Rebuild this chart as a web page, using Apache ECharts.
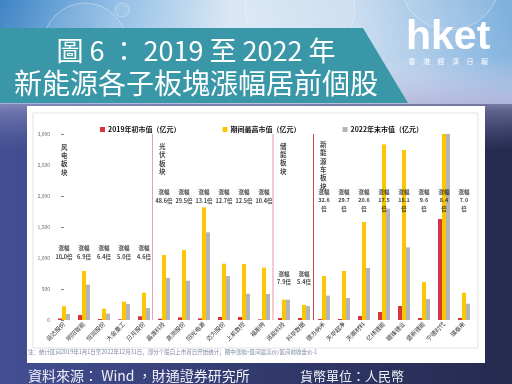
<!DOCTYPE html>
<html><head><meta charset="utf-8">
<script src="https://cdn.jsdelivr.net/npm/echarts@6/dist/echarts.min.js"></script>
<style>html,body{margin:0;padding:0;background:#262a4f}#c{width:512px;height:384px}</style>
</head><body><div id="c"></div>
<script>
// ---------- data ----------
const categories = ['运达股份','明阳智能','恒润股份','大金重工','日月股份',
  '晶澳科技','高测股份','阳光电源','迈为股份','上机数控','福斯特',
  '派能科技','科华数据',
  '德方纳米','天华超净','天赐材料','亿纬锂能','赣锋锂业','盛新锂能','宁德时代','璞泰来'];
const start2019 = [25,81,16,11,60, 21,43,27,48,48,11, 32,32, 16,16,65,129,226,32,1629,32];
const peakCap   = [221,790,183,296,441, 1048,1129,1817,908,903,844, 328,242, 710,790,1581,2833,2742,613,3000,441];
const end2022   = [97,570,102,258,194, 677,634,1414,710,425,419, 328,226, 392,355,839,1796,1172,339,3000,263];
const gains = ['10.0','6.9','6.4','5.0','4.6','48.6','29.5','13.1','12.7','12.5','10.4','7.9','5.4',
  '32.6','29.7','20.6','17.5','18.1','9.6','8.4','7.0'];
const sectors = ['风电板块','光伏板块','储能板块','新能源车板块'];
const sectorFirst = [0,5,11,13];
const yTicks = [0,500,1000,1500,2000,2500,3000];
const seriesNames = ['2019年初市值（亿元）','期间最高市值（亿元）','2022年末市值（亿元）'];

// ---------- build ----------
const CJK = '"Noto Sans CJK SC","Noto Sans CJK TC",sans-serif';
const TC = '"Noto Sans CJK TC","Noto Sans CJK SC",sans-serif';
// label anchor heights (value units) per sector
const gainY = [1090, 1990, 675, 1935];
const sectorTitleY = [2935, 2945, 2950, 2975];
const sepX = [4.4, 10.45, 12.45];
const sepStyle = [{color:'#e7a3aa',width:1},{color:'#f2ccd0',width:2},{color:'#c9474c',width:1}];
function sectorOf(i){let s=0;for(let k=0;k<sectorFirst.length;k++){if(i>=sectorFirst[k])s=k;}return s;}

const gainData = categories.map((c,i)=>{
  const s = sectorOf(i);
  return {value:[i, gainY[s]], txt: s===3 ? '涨幅\n'+gains[i]+'\n倍' : '涨幅\n'+gains[i]+'倍'};
});
const sectorData = sectors.map((n,k)=>({value:[k===0?-0.5:sepX[k-1], sectorTitleY[k]], name:n}));

const chart = echarts.init(document.getElementById('c'), null, {renderer:'canvas'});
const bg = [];
bg.push({type:'rect',z:-20,shape:{x:0,y:0,width:512,height:384},style:{fill:new echarts.graphic.LinearGradient(0,0,1,0,[{offset:0,color:'#434f93'},{offset:0.5,color:'#323a6e'},{offset:1,color:'#252a4e'}])},silent:true});
bg.push({type:'rect',z:-19,shape:{x:0,y:90,width:512,height:60},style:{fill:new echarts.graphic.LinearGradient(0,0,0,1,[{offset:0,color:'rgba(190,190,222,0.95)'},{offset:0.35,color:'rgba(150,155,200,0.5)'},{offset:1,color:'rgba(120,125,180,0)'}])},silent:true});
bg.push({type:'rect',z:-18,shape:{x:0,y:0,width:512,height:104},style:{fill:new echarts.graphic.LinearGradient(0,0,1,0,[{offset:0,color:'#3f84c6'},{offset:0.22,color:'#8fbde5'},{offset:0.45,color:'#d9e7f4'},{offset:0.7,color:'#c8dcef'},{offset:1,color:'#7aaedc'}])},silent:true});
bg.push({type:'rect',z:-17,shape:{x:0,y:0,width:512,height:104},style:{fill:new echarts.graphic.LinearGradient(0,0,0,1,[{offset:0,color:'rgba(255,255,255,0)'},{offset:0.55,color:'rgba(230,230,245,0.1)'},{offset:1,color:'rgba(185,182,218,0.85)'}])},silent:true});
[[85,45,42],[122,10,7],[300,8,55],[450,-20,50]].forEach(c=>{
  bg.push({type:'circle',z:-16,shape:{cx:c[0],cy:c[1],r:c[2]},style:{fill:'rgba(255,255,255,0.08)',stroke:'rgba(255,255,255,0.35)',lineWidth:1},silent:true});
});
// banner
bg.push({type:'polygon',z:-15,shape:{points:[[0,28],[363,28],[408,103],[0,103]]},style:{fill:'#3a97a8'},silent:true});
bg.push({type:'text',z:-14,style:{text:'圖 6 ： 2019 至 2022 年',x:196,y:51,fill:'#ffffff',fontSize:27,fontFamily:TC,align:'center',verticalAlign:'middle'},silent:true});
bg.push({type:'text',z:-14,style:{text:'新能源各子板塊漲幅居前個股',x:196,y:83,fill:'#ffffff',fontSize:28,fontFamily:TC,align:'center',verticalAlign:'middle'},silent:true});
// logo
bg.push({type:'text',z:-14,style:{text:'hket',x:406,y:38,fill:'#ffffff',fontSize:41,fontWeight:'bold',fontFamily:'"Liberation Sans",Arial,sans-serif',align:'left',verticalAlign:'middle'},silent:true});
'香港經濟日報'.split('').forEach((ch,i)=>{
  bg.push({type:'text',z:-14,style:{text:ch,x:412+i*14.5,y:61,fill:'#ffffff',fontSize:7,fontFamily:TC,align:'center',verticalAlign:'middle'},silent:true});
});
// panel
bg.push({type:'rect',z:-13,shape:{x:27,y:106,width:458,height:257},style:{fill:'#ffffff'},silent:true});
bg.push({type:'rect',z:-12,shape:{x:33,y:113,width:445,height:235},style:{fill:'#ffffff',stroke:'#e3e3e6',lineWidth:1},silent:true});
bg.push({type:'text',z:-11,style:{text:'注：统计区间2019年1月1日至2022年12月31日，部分个股自上市首日开始统计；图中涨幅=区间最高价/区间前收盘价-1',x:28,y:352,fill:'#7d88a8',fontSize:5.5,fontFamily:CJK,align:'left',verticalAlign:'middle'},silent:true});
// footer
bg.push({type:'text',z:-11,style:{text:'資料來源： Wind ，財通證券研究所',x:28,y:376,fill:'#f0f0f6',fontSize:14,fontFamily:TC,align:'left',verticalAlign:'middle'},silent:true});
bg.push({type:'text',z:-11,style:{text:'貨幣單位：人民幣',x:300,y:376,fill:'#f0f0f6',fontSize:13,fontFamily:TC,align:'left',verticalAlign:'middle'},silent:true});

const colors = ['#d7373c','#fcc600','#b1b4bc'];
const option = {
  animation:false,
  textStyle:{fontFamily:CJK},
  graphic:{elements:bg},
  legend:{top:121,left:95,itemWidth:5,itemHeight:5,itemGap:42,icon:'rect',
    textStyle:{fontSize:7,fontWeight:'bold',color:'#111',fontFamily:CJK,padding:[0,0,0,-2]},
    data:seriesNames},
  grid:{left:54,right:38,top:134,bottom:64},
  xAxis:[
    {type:'category',data:categories,axisLine:{show:false},axisTick:{show:false},
      axisLabel:{interval:0,rotate:45,fontSize:6,color:'#333',margin:3,fontFamily:CJK}},
    {type:'value',min:-0.5,max:20.5,show:false}
  ],
  yAxis:{type:'value',min:0,max:3000,interval:500,splitLine:{show:false},
    axisLine:{show:false},axisTick:{show:true,length:3,lineStyle:{color:'#888'}},
    axisLabel:{fontSize:5,color:'#666',margin:4,formatter:v=>yTicks.indexOf(v)>=0?v.toLocaleString('en-US'):''}},
  series:[
    {name:seriesNames[0],type:'bar',data:start2019,barWidth:4,barGap:'0%',itemStyle:{color:colors[0]},clip:true},
    {name:seriesNames[1],type:'bar',data:peakCap,barWidth:4,barGap:'0%',itemStyle:{color:colors[1]},clip:true},
    {name:seriesNames[2],type:'bar',data:end2022,barWidth:4,barGap:'0%',itemStyle:{color:colors[2]},clip:true},
    {type:'scatter',xAxisIndex:1,symbolSize:0,data:gainData,silent:true,
      label:{show:true,position:'inside',formatter:p=>p.data.txt,fontSize:5.5,fontWeight:'bold',color:'#111',lineHeight:8.5,align:'center',verticalAlign:'middle'},
      markLine:{silent:true,symbol:'none',label:{show:false},
        data:sepX.map((x,k)=>[{coord:[x,0],lineStyle:{color:sepStyle[k].color,width:sepStyle[k].width,type:'solid'}},{coord:[x,3000]}])}},
    {type:'scatter',xAxisIndex:1,symbolSize:0,data:sectorData,silent:true,
      label:{show:true,position:'insideTopLeft',offset:[2,0],formatter:p=>p.data.name.split('').join('\n'),fontSize:6.5,fontWeight:'bold',color:'#111',lineHeight:8.3,align:'left',verticalAlign:'top'}}
  ]
};
chart.setOption(option);
</script></body></html>
